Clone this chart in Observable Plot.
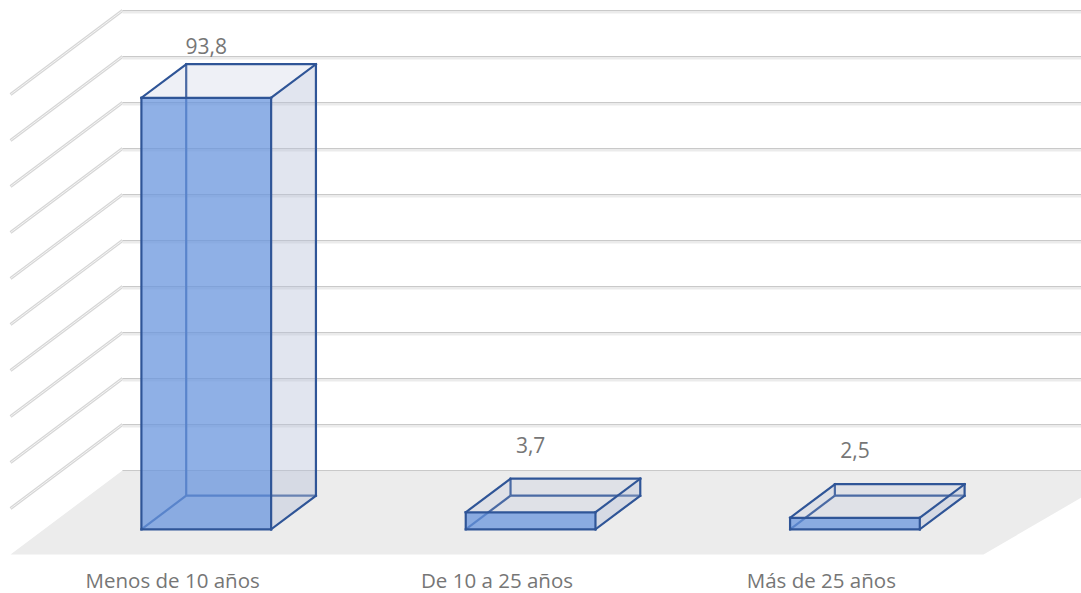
<!DOCTYPE html>
<html>
<head>
<meta charset="utf-8">
<script src="https://cdn.jsdelivr.net/npm/d3@7"></script>
<script src="https://cdn.jsdelivr.net/npm/@observablehq/plot@0.6"></script>
<style>
  html, body { margin: 0; padding: 0; background: #ffffff; }
  #chart svg { display: block; }
</style>
</head>
<body>
<div id="chart"></div>
<script>
// ---- data ----
const categories = ["Menos de 10 años", "De 10 a 25 años", "Más de 25 años"];
const values = [93.8, 3.7, 2.5];
const valueLabels = ["93,8", "3,7", "2,5"];
const gridTicks = [0, 10, 20, 30, 40, 50, 60, 70, 80, 90, 100];

// ---- oblique 3D projection (in scale units) ----
const DU = 112 / 324.33;   // depth shift along x (category units) for full depth
const DV = 84 / 4.6;       // depth shift along y (value units) for full depth
const ZF = 0.3, ZB = 0.7;  // bar front / back depth
const BW0 = 0.3, BW1 = 0.7; // bar extent within category
const LK = 0.963;          // label height factor
function P(c, v, z) { return {x: c + z * DU, y: v + z * DV}; }

const bars = categories.map((c, i) => ({i, cat: c, v: values[i], label: valueLabels[i]}));

// faces
function face(id, pts) { return pts.map(p => ({id, x: p.x, y: p.y})); }
const fronts = [], tops = [], rights = [];
const hiddenEdges = [], visibleEdges = [];
function edge(a, b) { return {x1: a.x, y1: a.y, x2: b.x, y2: b.y}; }
bars.forEach(b => {
  const x0 = b.i + BW0, x1 = b.i + BW1, h = b.v;
  const Fbl = P(x0, 0, ZF), Fbr = P(x1, 0, ZF), Ftl = P(x0, h, ZF), Ftr = P(x1, h, ZF);
  const Bbl = P(x0, 0, ZB), Bbr = P(x1, 0, ZB), Btl = P(x0, h, ZB), Btr = P(x1, h, ZB);
  fronts.push(...face("f" + b.i, [Fbl, Fbr, Ftr, Ftl]));
  tops.push(...face("t" + b.i, [Ftl, Ftr, Btr, Btl]));
  rights.push(...face("r" + b.i, [Fbr, Bbr, Btr, Ftr]));
  hiddenEdges.push(edge(Bbl, Btl), edge(Bbl, Bbr), edge(Fbl, Bbl));
  visibleEdges.push(edge(Fbl, Fbr), edge(Fbr, Ftr), edge(Ftr, Ftl), edge(Ftl, Fbl),
                    edge(Ftl, Btl), edge(Btl, Btr), edge(Btr, Ftr),
                    edge(Btr, Bbr), edge(Fbr, Bbr));
});

const nCat = categories.length;
const floor = face("floor", [P(0, 0, 0), P(0, 0, 1), P(nCat + 0.1, 0, 1), P(nCat, 0, 0)]);
const backGrid = gridTicks.map(t => edge(P(0, t, 1), P(nCat + 0.1, t, 1)));
const sideGrid = gridTicks.filter(t => t > 0).map(t => edge(P(0, t, 0), P(0, t, 1)));

const textColor = "#767676";
const edgeColor = "#2f5597";

const chart = Plot.plot({
  width: 1081,
  height: 593,
  margin: 0,
  x: {domain: [0, nCat], range: [10, 983], axis: null},
  y: {domain: [0, 100], range: [554, 94], axis: null},
  style: {fontFamily: "'Open Sans', 'Noto Sans', sans-serif", background: "#ffffff"},
  marks: [
    Plot.line(floor, {x: "x", y: "y", z: "id", fill: "#ececec", stroke: "none", curve: "linear-closed"}),
    // side wall gridlines
    Plot.link(sideGrid, {x1: "x1", y1: "y1", x2: "x2", y2: "y2", stroke: "#d6d6d6", strokeWidth: 3}),
    Plot.link(sideGrid, {x1: "x1", y1: "y1", x2: "x2", y2: "y2", stroke: "#f4f4f4", strokeWidth: 1}),
    // back wall gridlines
    Plot.link(backGrid, {x1: "x1", y1: "y1", x2: "x2", y2: "y2", stroke: "#ebebeb", strokeWidth: 3, dy: 1.5}),
    Plot.link(backGrid, {x1: "x1", y1: "y1", x2: "x2", y2: "y2", stroke: "#c9c9c9", strokeWidth: 1}),
    // hidden edges (seen through translucent faces)
    Plot.link(hiddenEdges, {x1: "x1", y1: "y1", x2: "x2", y2: "y2", stroke: edgeColor, strokeWidth: 2.2}),
    // faces
    Plot.line(rights, {x: "x", y: "y", z: "id", fill: "#b8c1d9", fillOpacity: 0.42, stroke: "none", curve: "linear-closed"}),
    Plot.line(tops, {x: "x", y: "y", z: "id", fill: "#aeb8d4", fillOpacity: 0.21, stroke: "none", curve: "linear-closed"}),
    Plot.line(fronts, {x: "x", y: "y", z: "id", fill: "#6894dd", fillOpacity: 0.74, stroke: "none", curve: "linear-closed"}),
    // visible edges
    Plot.link(visibleEdges, {x1: "x1", y1: "y1", x2: "x2", y2: "y2", stroke: edgeColor, strokeWidth: 2.2, strokeLinecap: "square"}),
    // value labels
    Plot.text(bars, {
      x: d => d.i + 0.5 + ZF * DU,
      y: d => d.v * LK + ZB * DV,
      text: "label", dy: -33, fontSize: 21, fill: textColor
    }),
    // category labels
    Plot.text(bars, {
      x: d => d.i + 0.5, y: () => 0,
      text: "cat", dy: 26.5, fontSize: 20.5, fill: textColor
    })
  ]
});
document.getElementById("chart").appendChild(chart);
</script>
</body>
</html>
